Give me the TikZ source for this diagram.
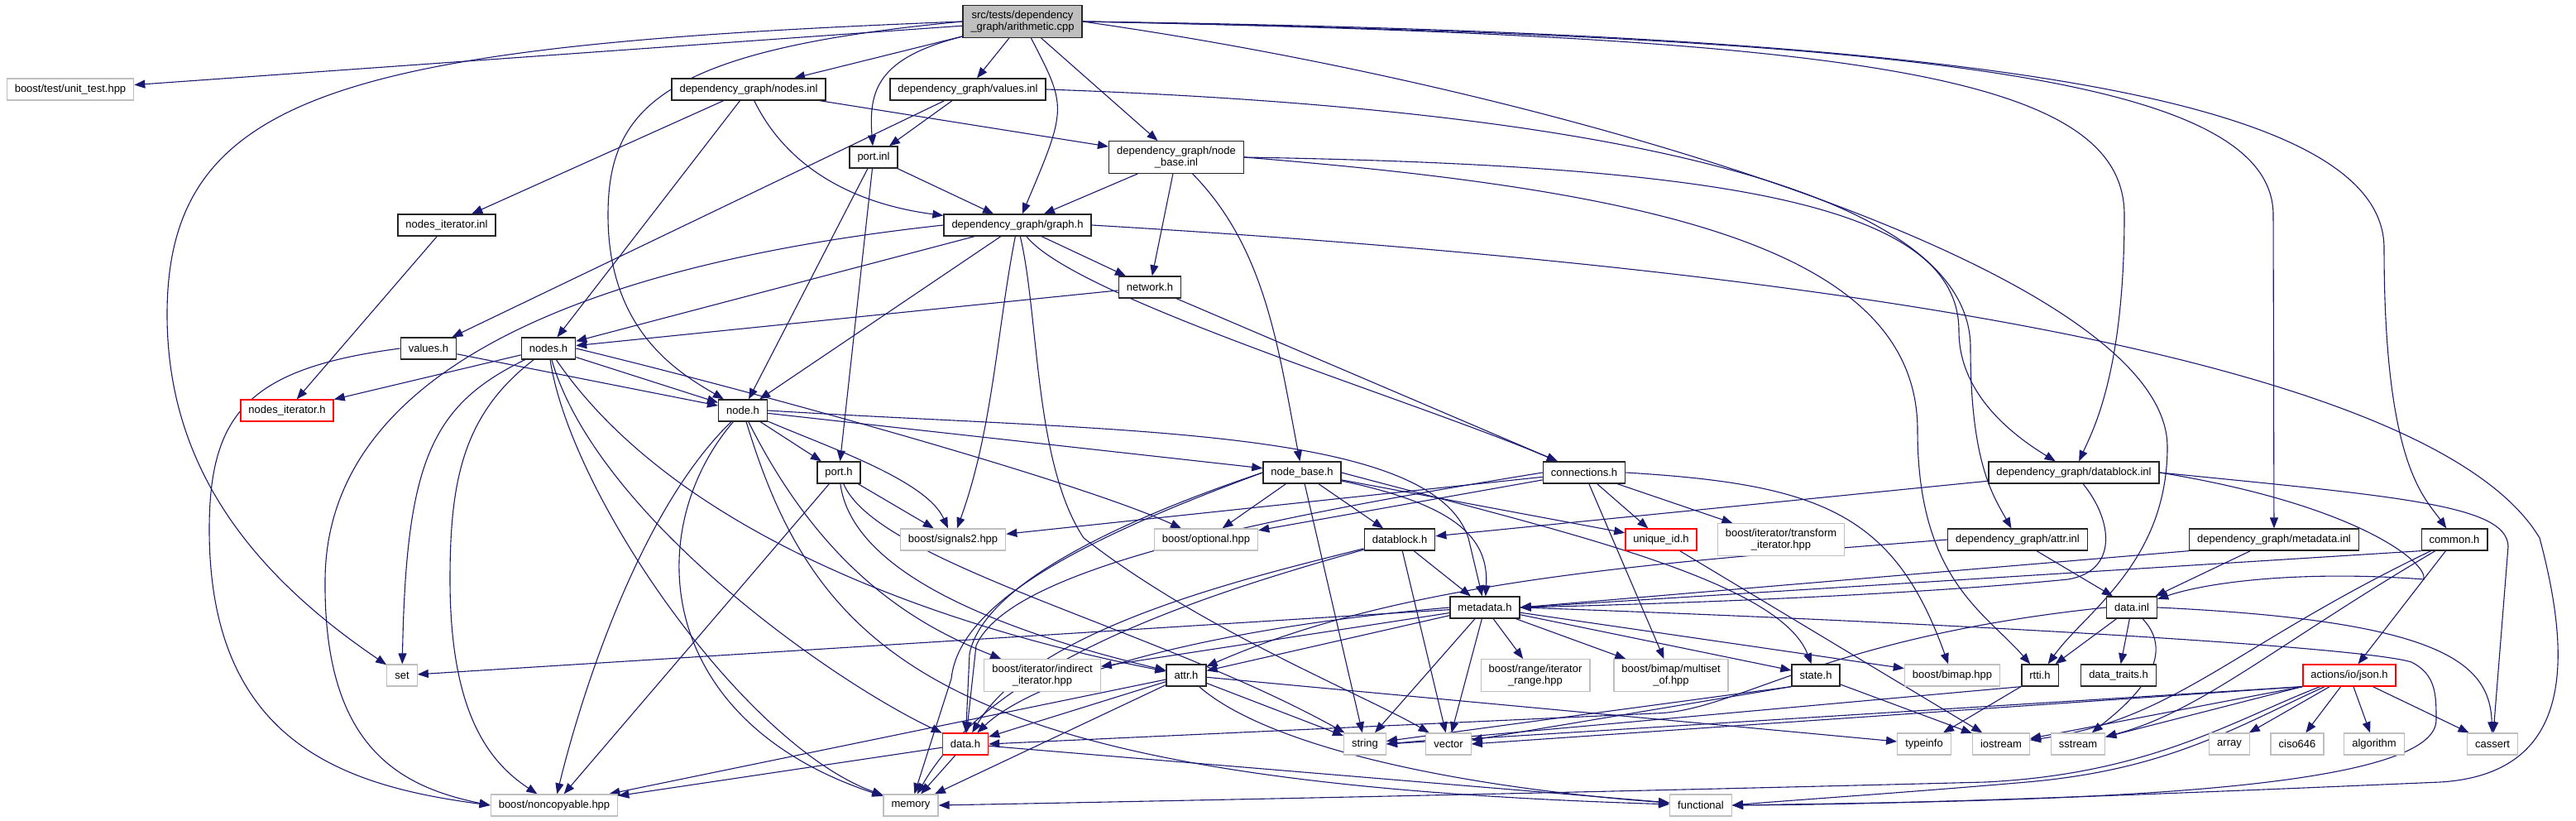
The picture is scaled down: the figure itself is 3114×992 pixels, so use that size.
\documentclass[tikz,border=0pt]{standalone}
\usepackage{fontspec}
\setmainfont{Liberation Sans}
\usepackage{tikz}
\usetikzlibrary{arrows.meta,backgrounds}
\definecolor{DepEdge}{HTML}{191970}
\definecolor{DepGray}{HTML}{BFBFBF}
\tikzset{
  filebox/.style={draw=black!85,line width=1.3pt,fill=white,inner xsep=9.5pt,inner ysep=6pt,minimum height=26pt,align=center,font=\fontsize{13}{14.5}\selectfont},
  sysbox/.style={filebox,draw=DepGray},
  missbox/.style={filebox,draw=red},
  rootbox/.style={filebox,fill=DepGray},
  incarrow/.style={-{Triangle[length=13pt,width=10pt]},line width=1.1pt,draw=DepEdge}
}

\begin{document}
\begin{tikzpicture}[x=1pt,y=-1pt]
\useasboundingbox (0,0) rectangle (3114,992);
\node[rootbox] (root) at (1236,26) {src/tests/dependency\\\_graph/arithmetic.cpp};
\node[sysbox] (unittest) at (85,108) {boost/test/unit\_test.hpp};
\node[filebox] (nodesinl) at (905,108) {dependency\_graph/nodes.inl};
\node[filebox] (valuesinl) at (1170,108) {dependency\_graph/values.inl};
\node[filebox] (portinl) at (1056,190) {port.inl};
\node[filebox] (nodebaseinl) at (1422,190) {dependency\_graph/node\\\_base.inl};
\node[filebox] (nodesiterinl) at (540,272) {nodes\_iterator.inl};
\node[filebox] (graphh) at (1230,272) {dependency\_graph/graph.h};
\node[filebox] (networkh) at (1390,347) {network.h};
\node[filebox] (valuesh) at (518,421) {values.h};
\node[filebox] (nodesh) at (663,421) {nodes.h};
\node[missbox] (nodesiterh) at (347,496) {nodes\_iterator.h};
\node[filebox] (nodeh) at (898,496) {node.h};
\node[filebox] (porth) at (1014,571) {port.h};
\node[filebox] (nodebaseh) at (1574,571) {node\_base.h};
\node[filebox] (connectionsh) at (1915,571) {connections.h};
\node[filebox] (datablockinl) at (2507,571) {dependency\_graph/datablock.inl};
\node[sysbox] (signals) at (1152,652) {boost/signals2.hpp};
\node[sysbox] (optional) at (1458,652) {boost/optional.hpp};
\node[filebox] (datablockh) at (1692,652) {datablock.h};
\node[missbox] (uniqueid) at (2008,652) {unique\_id.h};
\node[sysbox] (transformiter) at (2153,652) {boost/iterator/transform\\\_iterator.hpp};
\node[filebox] (attrinl) at (2439,652) {dependency\_graph/attr.inl};
\node[filebox] (metadatainl) at (2749,652) {dependency\_graph/metadata.inl};
\node[filebox] (commonh) at (2967,652) {common.h};
\node[filebox] (metadatah) at (1795,734) {metadata.h};
\node[filebox] (datainl) at (2577,734) {data.inl};
\node[sysbox] (set) at (486,816) {set};
\node[sysbox] (indirect) at (1260,816) {boost/iterator/indirect\\\_iterator.hpp};
\node[filebox] (attrh) at (1434,816) {attr.h};
\node[sysbox] (rangeiter) at (1856,816) {boost/range/iterator\\\_range.hpp};
\node[sysbox] (multiset) at (2020,816) {boost/bimap/multiset\\\_of.hpp};
\node[filebox] (stateh) at (2195,816) {state.h};
\node[sysbox] (bimap) at (2360,816) {boost/bimap.hpp};
\node[filebox] (rttih) at (2466,816) {rtti.h};
\node[filebox] (datatraits) at (2561,816) {data\_traits.h};
\node[missbox] (jsonh) at (2840,816) {actions/io/json.h};
\node[missbox] (datah) at (1167,899) {data.h};
\node[sysbox] (string) at (1650,899) {string};
\node[sysbox] (vector) at (1751,899) {vector};
\node[sysbox] (typeinfo) at (2326,899) {typeinfo};
\node[sysbox] (iostream) at (2419,899) {iostream};
\node[sysbox] (sstream) at (2512,899) {sstream};
\node[sysbox] (array) at (2695,899) {array};
\node[sysbox] (ciso) at (2777,899) {ciso646};
\node[sysbox] (algorithm) at (2870,899) {algorithm};
\node[sysbox] (cassert) at (3013,899) {cassert};
\node[sysbox] (noncopyable) at (670,973) {boost/noncopyable.hpp};
\node[sysbox] (memory) at (1101,973) {memory};
\node[sysbox] (functional) at (2056,973) {functional};

\begin{scope}[on background layer]
% arithmetic.cpp
\foreach \dst in {unittest,nodesinl,valuesinl,nodebaseinl}
  \draw[incarrow] (root) -- (\dst);
\draw[incarrow] (root.west) .. controls (420,55) and (202,110) .. (202,380) .. controls (202,560) and (300,690) .. (set);
\draw[incarrow] (root.west) .. controls (800,60) and (735,130) .. (735,260) .. controls (735,400) and (820,450) .. (nodeh);
\draw[incarrow] (root) .. controls (1060,70) and (1050,110) .. (portinl);
\draw[incarrow] (root) .. controls (1290,130) .. (graphh);
\draw[incarrow] (root.east) .. controls (2350,40) and (2882,110) .. (2882,300) .. controls (2882,560) and (2930,600) .. (commonh);
\draw[incarrow] (root.east) .. controls (2300,45) and (2748,90) .. (2748,260) -- (metadatainl);
\draw[incarrow] (root.east) .. controls (2250,45) and (2568,90) .. (2568,260) .. controls (2568,450) and (2530,520) .. (datablockinl);
\draw[incarrow] (root.east) .. controls (1900,110) and (2620,330) .. (2620,540) .. controls (2620,680) and (2520,740) .. (rttih);
% first level
\foreach \dst in {nodesiterinl,nodesh,nodebaseinl}
  \draw[incarrow] (nodesinl) -- (\dst);
\draw[incarrow] (nodesinl) .. controls (960,220) and (1060,250) .. (graphh);
\foreach \dst in {portinl,valuesh}
  \draw[incarrow] (valuesinl) -- (\dst);
\draw[incarrow] (valuesinl.east) .. controls (1900,130) and (2382,220) .. (2382,420) .. controls (2382,560) and (2410,600) .. (attrinl);
\foreach \dst in {nodeh,porth,graphh}
  \draw[incarrow] (portinl) -- (\dst);
\foreach \dst in {graphh,networkh}
  \draw[incarrow] (nodebaseinl) -- (\dst);
\draw[incarrow] (nodebaseinl) .. controls (1530,300) and (1545,420) .. (nodebaseh);
\draw[incarrow] (nodebaseinl.east) .. controls (2100,200) and (2368,250) .. (2368,400) .. controls (2368,480) and (2440,530) .. (datablockinl);
\draw[incarrow] (nodebaseinl.east) .. controls (2000,230) and (2318,300) .. (2318,520) .. controls (2318,700) and (2400,740) .. (rttih);
\draw[incarrow] (nodesiterinl) -- (nodesiterh);
% graph.h
\foreach \dst in {nodesh,nodeh,networkh}
  \draw[incarrow] (graphh) -- (\dst);
\draw[incarrow] (graphh) .. controls (1300,360) and (1700,480) .. (connectionsh);
\draw[incarrow] (graphh) .. controls (1205,400) and (1200,520) .. (signals);
\draw[incarrow] (graphh) .. controls (1256,380) and (1250,560) .. (1310,650) .. controls (1450,760) and (1650,840) .. (vector);
\draw[incarrow] (graphh.west) .. controls (700,320) and (395,450) .. (393,700) .. controls (391,900) and (480,950) .. (noncopyable.west);
\draw[incarrow] (graphh.east) .. controls (2300,330) and (2950,450) .. (3070,650) .. controls (3110,800) and (3110,935) .. (2950,945) .. controls (2600,960) and (2300,972) .. (functional.east);
\foreach \dst in {nodesh,connectionsh}
  \draw[incarrow] (networkh) -- (\dst);
\draw[incarrow] (valuesh) -- (nodeh);
\draw[incarrow] (valuesh.west) .. controls (300,445) and (253,500) .. (253,640) .. controls (253,900) and (420,950) .. (noncopyable.west);
% nodes.h, node.h, port.h
\foreach \dst in {nodesiterh,nodeh}
  \draw[incarrow] (nodesh) -- (\dst);
\draw[incarrow] (nodesh.east) .. controls (900,470) and (1300,580) .. (optional);
\draw[incarrow] (nodesh) .. controls (520,490) and (491,560) .. (set);
\draw[incarrow] (nodesh) .. controls (560,500) and (544,580) .. (544,700) .. controls (544,860) and (590,920) .. (noncopyable);
\draw[incarrow] (nodesh) .. controls (690,600) and (900,900) .. (memory);
\draw[incarrow] (nodesh) .. controls (720,620) and (1000,820) .. (datah);
\draw[incarrow] (nodesh) .. controls (820,650) and (1150,760) .. (attrh);
\foreach \dst in {porth,nodebaseh}
  \draw[incarrow] (nodeh) -- (\dst);
\draw[incarrow] (nodeh) .. controls (1000,540) and (1120,580) .. (signals);
\draw[incarrow] (nodeh.east) .. controls (1350,522) and (1730,515) .. (1775,650) -- (metadatah);
\draw[incarrow] (nodeh) .. controls (770,620) and (700,850) .. (noncopyable);
\draw[incarrow] (nodeh) .. controls (775,640) and (790,870) .. (memory);
\draw[incarrow] (nodeh) .. controls (990,800) and (1150,945) .. (functional);
\draw[incarrow] (nodeh) .. controls (1000,700) and (1120,760) .. (indirect);
\foreach \dst in {signals,noncopyable}
  \draw[incarrow] (porth) -- (\dst);
\draw[incarrow] (porth) .. controls (1030,690) and (1200,760) .. (attrh);
\draw[incarrow] (porth) .. controls (1060,680) and (1400,760) .. (string);
% node_base.h, connections.h
\foreach \dst in {optional,datablockh,uniqueid,string}
  \draw[incarrow] (nodebaseh) -- (\dst);
\draw[incarrow] (nodebaseh) .. controls (1760,610) and (1800,650) .. (metadatah);
\draw[incarrow] (nodebaseh.west) .. controls (1340,640) and (1160,720) .. (1150,820) -- (memory);
\draw[incarrow] (nodebaseh.west) .. controls (1380,620) and (1190,700) .. (1172,790) -- (datah);
\draw[incarrow] (nodebaseh.east) .. controls (1880,640) and (2150,700) .. (stateh);
\foreach \dst in {signals,optional,uniqueid,transformiter,multiset}
  \draw[incarrow] (connectionsh) -- (\dst);
\draw[incarrow] (connectionsh.east) .. controls (2200,585) and (2290,620) .. (bimap);
\draw[incarrow] (connectionsh.west) .. controls (1500,630) and (1220,690) .. (1180,780) -- (datah);
% datablock, attr, metadata, common
\draw[incarrow] (datablockinl) -- (datablockh);
\draw[incarrow] (datablockinl) .. controls (2555,630) and (2560,690) .. (2500,700) .. controls (2300,720) and (2000,730) .. (metadatah.east);
\draw[incarrow] (datablockinl.east) .. controls (2850,610) and (2935,680) .. (2930,700) .. controls (2800,690) and (2680,700) .. (datainl);
\draw[incarrow] (datablockinl.east) .. controls (2900,600) and (3030,610) .. (3032,660) -- (cassert);
\foreach \dst in {metadatah,vector}
  \draw[incarrow] (datablockh) -- (\dst);
\draw[incarrow] (datablockh) .. controls (1500,700) and (1250,760) .. (datah);
\draw[incarrow] (datablockh) .. controls (1450,720) and (1200,800) .. (memory);
\draw[incarrow] (attrinl) -- (datainl);
\draw[incarrow] (attrinl.west) .. controls (2000,680) and (1700,700) .. (attrh);
\draw[incarrow] (metadatainl.south west) -- (metadatah.east);
\draw[incarrow] (metadatainl) -- (datainl);
\draw[incarrow] (commonh.south west) -- (metadatah.east);
\draw[incarrow] (commonh) -- (jsonh);
\draw[incarrow] (commonh) .. controls (2700,780) and (2630,870) .. (iostream);
\draw[incarrow] (commonh) .. controls (2750,780) and (2660,860) .. (sstream);
% metadata.h, attr.h, data.h
\foreach \dst in {set,indirect,attrh,string,vector,rangeiter,multiset,bimap,stateh}
  \draw[incarrow] (metadatah) -- (\dst);
\draw[incarrow] (metadatah.west) .. controls (1450,760) and (1250,820) .. (datah);
\draw[incarrow] (metadatah.east) .. controls (2300,750) and (2850,780) .. (2915,800) .. controls (2945,815) and (2945,840) .. (2945,870) .. controls (2945,965) and (2400,968) .. (functional.east);
\foreach \dst in {datah,string,memory,noncopyable,typeinfo}
  \draw[incarrow] (attrh) -- (\dst);
\draw[incarrow] (attrh) .. controls (1530,900) and (1750,950) .. (functional);
\foreach \dst in {memory,functional,noncopyable}
  \draw[incarrow] (datah) -- (\dst);
% bottom rows
\foreach \dst in {string,vector}
  \draw[incarrow] (stateh.south west) -- (\dst);
\draw[incarrow] (stateh) -- (iostream);
\draw[incarrow] (uniqueid) -- (iostream);
\foreach \dst in {rttih,datatraits}
  \draw[incarrow] (datainl) -- (\dst);
\draw[incarrow] (datainl) .. controls (2640,800) and (2560,860) .. (sstream);
\draw[incarrow] (datainl.east) .. controls (2950,750) and (3010,800) .. (cassert);
\draw[incarrow] (datainl.west) .. controls (2200,770) and (2100,860) .. (2000,862) -- (datah.east);
\draw[incarrow] (rttih) -- (typeinfo);
\draw[incarrow] (rttih.south west) -- (string.east);
\foreach \dst in {iostream,sstream}
  \draw[incarrow] (jsonh.south west) -- (\dst);
\foreach \dst in {array,ciso,algorithm,cassert}
  \draw[incarrow] (jsonh) -- (\dst);
\draw[incarrow] (jsonh.south west) -- (string.east);
\draw[incarrow] (jsonh.south west) -- (vector.east);
\draw[incarrow] (jsonh) .. controls (2700,870) and (2600,935) .. (2400,945) .. controls (1900,958) and (1400,968) .. (memory.east);
\draw[incarrow] (jsonh) .. controls (2700,880) and (2620,930) .. (2450,945) .. controls (2300,958) and (2150,968) .. (functional.east);
\end{scope}
\end{tikzpicture}
\end{document}
